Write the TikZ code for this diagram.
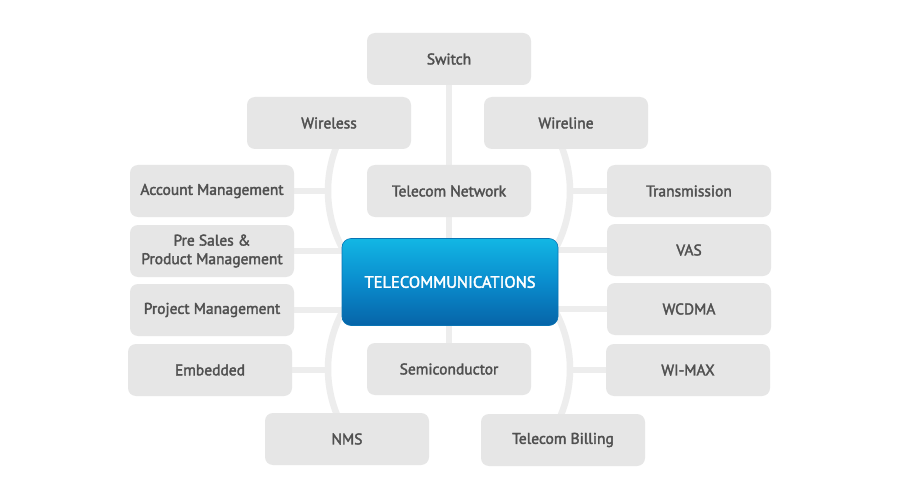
\documentclass[tikz,border=0pt]{standalone}
\usepackage{fontspec}
\setmainfont{PT Sans}
\newfontfamily\medfont{PT Sans}[FakeBold=2.2]
\definecolor{boxfill}{RGB}{230,230,230}
\definecolor{boxtext}{RGB}{80,80,80}
\definecolor{linecol}{RGB}{237,237,237}
\definecolor{ctop}{RGB}{18,182,228}
\definecolor{cmid}{RGB}{10,140,205}
\definecolor{cbot}{RGB}{6,100,168}
\begin{document}
\begin{tikzpicture}[x=1pt,y=-1pt,
  item/.style={fill=boxfill, rounded corners=8pt, minimum width=164pt, minimum height=52pt,
    inner sep=0pt, text=boxtext, font=\medfont\fontsize{15.5}{18.5}\selectfont, align=center},
  hub/.style={rounded corners=9pt, minimum width=216pt, minimum height=87pt, inner sep=0pt,
    top color=ctop, bottom color=cbot, middle color=cmid, draw=cbot!80!ctop, line width=0.6pt,
    text=white, font=\medfont\fontsize{16.5}{18}\selectfont},
  conn/.style={draw=linecol, line width=6.5pt}]
\useasboundingbox (0,0) rectangle (900,500);
\fill[white] (0,0) rectangle (900,500);
% coordinates for node centres (defined first for connectors)
\coordinate (tnc) at (449,191);
\coordinate (scc) at (449,369);
% connectors (background)
\begin{scope}
  \clip (0,140) rectangle (900,425);
  \draw[conn] (tnc) circle[radius=121pt];
  \draw[conn] (scc) circle[radius=121pt];
\end{scope}
\coordinate (swc) at (449,59);
\draw[conn] (swc) -- (scc);
% horizontals
\coordinate (acc) at (212,191);
\coordinate (prc) at (212,251);
\coordinate (pmc) at (212,310);
\coordinate (emc) at (210,370);
\coordinate (trc) at (689,191);
\coordinate (vac) at (689,250);
\coordinate (wcc) at (689,309);
\coordinate (wic) at (688,370);
\draw[conn] (acc) -- ([xshift=-121pt]tnc |- acc);
\draw[conn] (prc) -- (449,251);
\draw[conn] (pmc) -- (449,310);
\draw[conn] (emc) -- ([xshift=-121pt]scc |- emc);
\draw[conn] (trc) -- ([xshift=121pt]tnc |- trc);
\draw[conn] (vac) -- (449,250);
\draw[conn] (wcc) -- (449,309);
\draw[conn] (wic) -- ([xshift=121pt]scc |- wic);
% boxes
\node[item] (switch) at (swc) {Switch};
\node[item] (wireless) at (329,123) {Wireless};
\node[item] (wireline) at (566,123) {Wireline};
\node[item] (acct) at (acc) {Account Management};
\node[item] (tnet) at (tnc) {Telecom Network};
\node[item] (trans) at (trc) {Transmission};
\node[item] (presales) at (prc) {Pre Sales \&\\Product Management};
\node[item] (vas) at (vac) {VAS};
\node[item] (pm) at (pmc) {Project Management};
\node[item] (wcdma) at (wcc) {WCDMA};
\node[item] (emb) at (emc) {Embedded};
\node[item] (semi) at (scc) {Semiconductor};
\node[item] (wimax) at (wic) {WI-MAX};
\node[item] (nms) at (347,439) {NMS};
\node[item] (bill) at (563,440) {Telecom Billing};
\node[hub] (hub) at (450,282) {TELECOMMUNICATIONS};
\end{tikzpicture}
\end{document}
